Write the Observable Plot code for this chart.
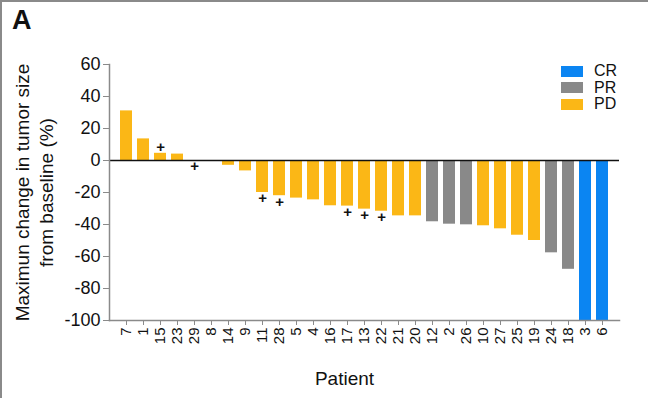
<!DOCTYPE html>
<html>
<head>
<meta charset="utf-8">
<script src="https://cdn.jsdelivr.net/npm/d3@7"></script>
<script src="https://cdn.jsdelivr.net/npm/@observablehq/plot@0.6"></script>
<style>
  html, body { margin: 0; padding: 0; background: #fff; }
  #wrap { position: relative; width: 648px; height: 398px; overflow: hidden; font-family: "Liberation Sans", Arial, Helvetica, sans-serif; }
  #title { position: absolute; left: 12px; top: 5px; font-size: 27px; line-height: 30px; font-weight: bold; color: #111; }
  .bt { position: absolute; left: 0; top: 0; width: 648px; height: 2px; background: #8a8a8a; }
  .bl { position: absolute; left: 0; top: 0; width: 2px; height: 398px; background: #8a8a8a; }
  #legend { position: absolute; left: 561px; top: 63px; width: 80px; }
  .item { display: flex; align-items: center; height: 16.5px; line-height: 16.5px; font-size: 16px; color: #111; }
  .sw { width: 22px; height: 11px; margin-right: 11px; flex: none; }
  #chart { position: absolute; left: 0; top: 0; }
</style>
</head>
<body>
<div id="wrap">
  <div id="chart"></div>
  <div class="bt"></div>
  <div class="bl"></div>
  <div id="title">A</div>
  <div id="legend"></div>
</div>
<script>
const patients = ["7","1","15","23","29","8","14","9","11","28","5","4","16","17","13","22","21","20","12","2","26","10","27","25","19","24","18","3","6"];
const changes = [31,13.5,4.5,4,0,0,-3,-6.5,-20,-22,-23.5,-24.6,-28.3,-28.5,-30.4,-31.7,-34.6,-34.6,-38.3,-39.8,-40.2,-40.8,-42.7,-46.7,-50,-57.7,-68,-100,-100];
const responses = ["PD","PD","PD","PD","PD","PD","PD","PD","PD","PD","PD","PD","PD","PD","PD","PD","PD","PD","PR","PR","PR","PD","PD","PD","PD","PR","PR","CR","CR"];
const plusPatients = ["15","29","11","28","17","13","22"];
const categories = ["CR","PR","PD"];
const colors = ["#0b85f2","#898989","#fbb716"];
const yTicks = [60,40,20,0,-20,-40,-60,-80,-100];

const data = patients.map((p, i) => ({patient: p, change: changes[i], response: responses[i]}));
const plusData = data.filter(d => plusPatients.includes(d.patient));

const font = "'Liberation Sans', Arial, Helvetica, sans-serif";

const chart = Plot.plot({
  width: 648,
  height: 398,
  marginLeft: 109,
  marginRight: 29,
  marginTop: 64,
  marginBottom: 78,
  style: {fontFamily: font, color: "#111", background: "transparent"},
  x: {domain: patients, paddingInner: 0.3, paddingOuter: 0.32, label: null},
  y: {domain: [-100, 60], ticks: yTicks, label: null},
  color: {domain: categories, range: colors},
  marks: [
    Plot.barY(data, {x: "patient", y: "change", fill: "response"}),
    Plot.ruleY([0], {stroke: "#111", strokeWidth: 1.4}),
    Plot.frame({anchor: "left", stroke: "#8a8a8a", strokeWidth: 1.5}),
    Plot.frame({anchor: "bottom", stroke: "#8a8a8a", strokeWidth: 1.5}),
    Plot.axisY({ticks: yTicks, tickSize: 6, tickPadding: 3, fontSize: 18, stroke: "#8a8a8a", label: null, tickFormat: d => d < 0 ? "-" + Math.abs(d) : String(d)}),
    Plot.axisX({tickRotate: -90, tickSize: 5, tickPadding: 2, fontSize: 15, stroke: "#8a8a8a", label: null}),
    Plot.text(plusData.filter(d => d.change > 0), {x: "patient", y: "change", text: () => "+", dy: -6, fontSize: 15, fontWeight: "bold", fill: "#111"}),
    Plot.text(plusData.filter(d => d.change <= 0), {x: "patient", y: "change", text: () => "+", dy: 6, fontSize: 15, fontWeight: "bold", fill: "#111"}),
    Plot.text(["Maximun change in tumor size\nfrom baseline (%)"], {frameAnchor: "left", textAnchor: "middle", dx: -76, rotate: -90, fontSize: 19, lineHeight: 1.25, fill: "#111"}),
    Plot.text(["Patient"], {frameAnchor: "bottom", dx: -20, dy: 64, fontSize: 19, fill: "#111"})
  ]
});
document.getElementById("chart").appendChild(chart);

const legendDiv = document.getElementById("legend");
categories.forEach((c, i) => {
  const item = document.createElement("div");
  item.className = "item";
  const sw = document.createElement("span");
  sw.className = "sw";
  sw.style.background = colors[i];
  const label = document.createElement("span");
  label.textContent = c;
  item.appendChild(sw);
  item.appendChild(label);
  legendDiv.appendChild(item);
});
</script>
</body>
</html>
